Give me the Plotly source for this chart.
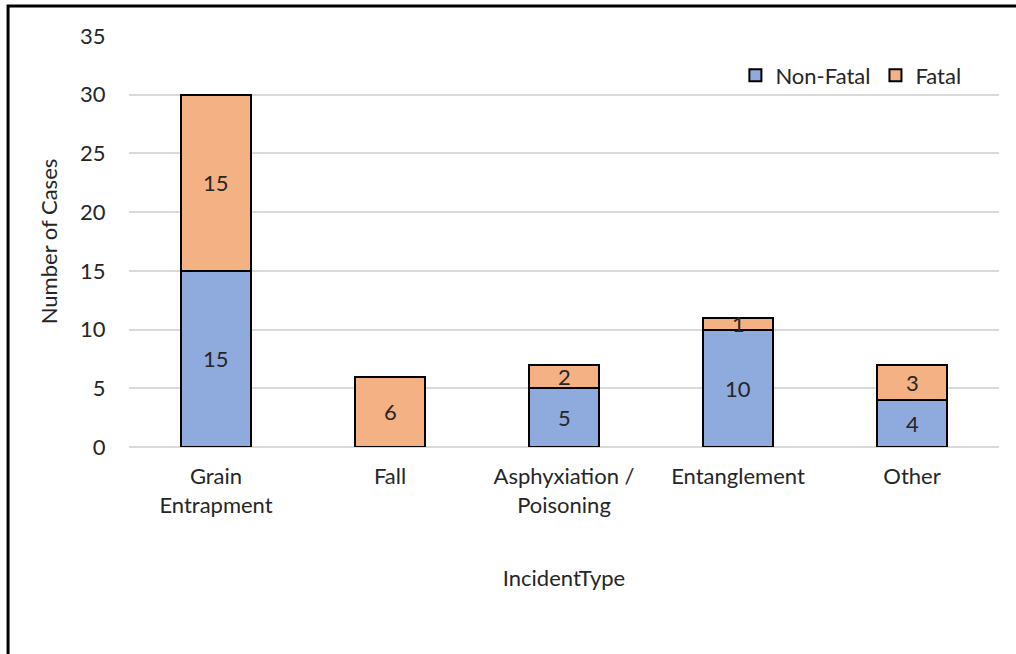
import plotly.graph_objects as go

# Incident counts by type
categories = ["Grain<br>Entrapment", "Fall", "Asphyxiation /<br>Poisoning", "Entanglement", "Other"]
non_fatal = [15, 0, 5, 10, 4]
fatal = [15, 6, 2, 1, 3]
y_ticks = [0, 5, 10, 15, 20, 25, 30, 35]

FONT = "Lato"
FS = 22
TEXT_COLOR = "#262626"
BLUE = "#8faadc"
ORANGE = "#f4b183"

fig = go.Figure()
fig.add_trace(go.Bar(
    x=categories, y=non_fatal, name="Non-Fatal",
    marker=dict(color=BLUE, line=dict(color="black", width=2)),
))
fig.add_trace(go.Bar(
    x=categories, y=fatal, name="Fatal",
    marker=dict(color=ORANGE, line=dict(color="black", width=2)),
))

# Data labels centred in each segment
for cat, nf, f in zip(categories, non_fatal, fatal):
    if nf > 0:
        fig.add_annotation(x=cat, y=nf / 2, text=str(nf), showarrow=False,
                           font=dict(family=FONT, size=FS, color=TEXT_COLOR))
    if f > 0:
        fig.add_annotation(x=cat, y=nf + f / 2, text=str(f), showarrow=False,
                           font=dict(family=FONT, size=FS, color=TEXT_COLOR))

# Outer frame
fig.add_shape(type="rect", xref="paper", yref="paper",
              x0=-0.139, x1=1.03, y0=-0.6, y1=1.073,
              line=dict(color="black", width=3), layer="above")

fig.update_layout(
    width=1016, height=654,
    margin=dict(l=129, r=17, t=36, b=207),
    barmode="stack", bargap=0.6,
    plot_bgcolor="white", paper_bgcolor="white",
    font=dict(family=FONT, size=FS, color=TEXT_COLOR),
    legend=dict(orientation="h", x=0.697, y=0.955, xanchor="left", yanchor="top",
                traceorder="normal",
                font=dict(family=FONT, size=FS, color=TEXT_COLOR),
                bgcolor="rgba(0,0,0,0)", itemwidth=30, tracegroupgap=0),
    xaxis=dict(
        title=dict(text="IncidentType", standoff=53,
                   font=dict(family=FONT, size=FS, color=TEXT_COLOR)),
        showgrid=False, showline=False, zeroline=False,
        tickfont=dict(family=FONT, size=FS, color=TEXT_COLOR),
        ticks="outside", ticklen=10, tickcolor="white",
    ),
    yaxis=dict(
        title=dict(text="Number of Cases", standoff=16,
                   font=dict(family=FONT, size=FS, color=TEXT_COLOR)),
        range=[0, 35], tickvals=y_ticks,
        showgrid=True, gridcolor="#d9d9d9", gridwidth=2,
        zeroline=True, zerolinecolor="#d9d9d9", zerolinewidth=2,
        showline=False,
        tickfont=dict(family=FONT, size=FS, color=TEXT_COLOR),
        ticks="outside", ticklen=18, tickcolor="white",
    ),
)

fig.write_html("out.html")
